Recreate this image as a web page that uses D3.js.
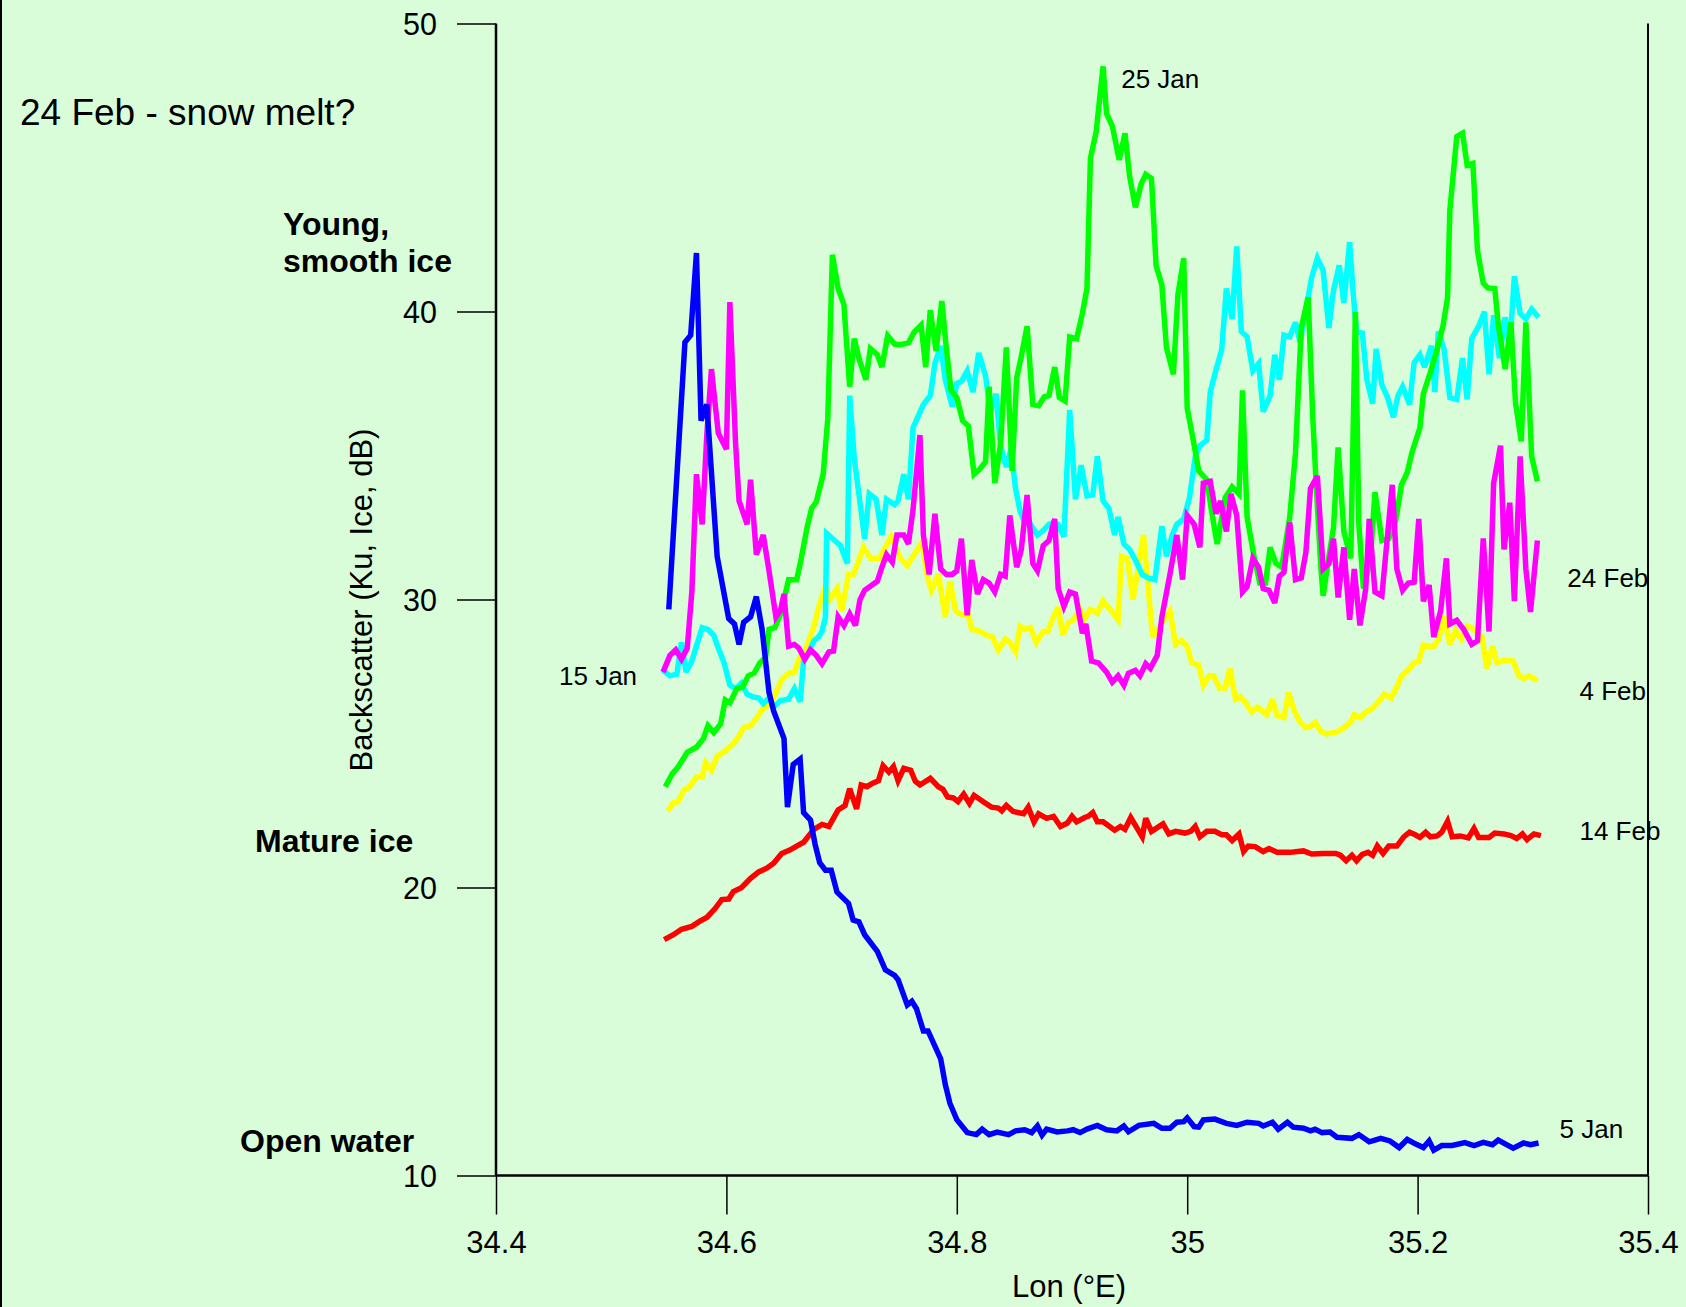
<!DOCTYPE html>
<html>
<head>
<meta charset="utf-8">
<script src="https://cdn.jsdelivr.net/npm/d3@7"></script>
<style>
  body { margin: 0; background: #d9fdd9; }
  svg { display: block; font-family: "Liberation Sans", Arial, Helvetica, sans-serif; }
</style>
</head>
<body>
<div id="wrapper"></div>
<script>
// Data (lon in °E, backscatter in dB)
const lon5Jan = [34.550,34.564,34.569,34.574,34.578,34.583,34.592,34.602,34.607,34.611,34.615,34.621,34.626,34.631,34.637,34.641,34.650,34.653,34.658,34.664,34.667,34.673,34.677,34.681,34.686,34.691,34.696,34.706,34.710,34.715,34.720,34.731,34.738,34.746,34.749,34.757,34.761,34.765,34.771,34.775,34.786,34.790,34.794,34.800,34.809,34.817,34.822,34.828,34.835,34.845,34.851,34.859,34.865,34.870,34.874,34.878,34.887,34.896,34.901,34.907,34.913,34.922,34.930,34.939,34.945,34.949,34.958,34.971,34.978,34.985,34.991,34.997,35.000,35.006,35.010,35.014,35.024,35.034,35.043,35.052,35.062,35.066,35.074,35.079,35.087,35.092,35.101,35.107,35.111,35.117,35.124,35.130,35.143,35.149,35.158,35.168,35.176,35.184,35.191,35.198,35.205,35.210,35.214,35.221,35.230,35.241,35.249,35.257,35.265,35.270,35.276,35.283,35.292,35.298,35.305]
const bs5Jan = [29.66,38.93,39.18,42.03,36.21,36.77,31.49,29.34,29.15,28.44,29.21,29.40,30.10,28.96,26.77,26.13,25.17,22.79,24.27,24.46,22.60,22.34,21.50,20.86,20.60,20.60,19.84,19.45,18.87,18.81,18.36,17.78,17.14,16.95,16.80,15.92,16.05,15.79,15.02,15.02,14.05,13.16,12.51,11.94,11.49,11.42,11.61,11.42,11.51,11.42,11.55,11.59,11.49,11.72,11.40,11.61,11.51,11.55,11.59,11.49,11.61,11.74,11.59,11.55,11.72,11.52,11.74,11.81,11.64,11.64,11.85,11.87,12.00,11.70,11.68,11.93,11.96,11.81,11.74,11.85,11.81,11.72,11.85,11.61,11.85,11.68,11.64,11.55,11.61,11.49,11.51,11.33,11.29,11.42,11.17,11.29,11.20,10.97,11.25,11.10,10.97,11.20,10.88,11.04,11.04,11.14,11.04,11.15,11.07,11.23,11.10,10.95,11.13,11.07,11.13]

const lon15Jan = [34.545,34.551,34.557,34.561,34.565,34.570,34.574,34.579,34.584,34.589,34.593,34.598,34.603,34.608,34.613,34.618,34.623,34.628,34.632,34.637,34.641,34.647,34.654,34.659,34.664,34.667,34.671,34.676,34.680,34.683,34.686,34.687,34.694,34.699,34.705,34.707,34.711,34.716,34.720,34.724,34.730,34.735,34.739,34.746,34.749,34.754,34.758,34.762,34.771,34.777,34.781,34.786,34.790,34.796,34.800,34.804,34.809,34.814,34.819,34.825,34.829,34.834,34.838,34.843,34.847,34.851,34.855,34.859,34.864,34.870,34.874,34.880,34.884,34.888,34.893,34.898,34.903,34.908,34.913,34.918,34.922,34.927,34.932,34.937,34.940,34.945,34.950,34.955,34.961,34.966,34.972,34.978,34.982,34.987,34.991,34.997,35.002,35.007,35.011,35.017,35.020,35.024,35.030,35.034,35.039,35.043,35.047,35.052,35.057,35.062,35.066,35.072,35.076,35.080,35.084,35.089,35.094,35.098,35.103,35.108,35.113,35.118,35.123,35.127,35.132,35.136,35.141,35.144,35.147,35.152,35.156,35.161,35.164,35.169,35.174,35.179,35.183,35.187,35.193,35.197,35.202,35.206,35.212,35.215,35.218,35.223,35.228,35.234,35.239,35.243,35.247,35.253,35.258,35.262,35.266,35.271,35.276,35.280,35.284,35.289,35.294,35.299,35.305]
const bs15Jan = [27.54,27.35,27.41,28.51,27.48,27.86,28.38,29.02,28.96,28.76,28.31,27.80,27.03,26.90,27.09,26.71,26.62,26.58,26.39,26.58,26.26,26.49,26.54,26.90,26.45,27.86,28.12,28.57,28.70,28.89,29.39,32.30,32.05,31.87,31.25,37.08,34.90,33.36,32.11,33.67,33.48,32.24,33.48,33.29,33.42,34.35,33.48,35.96,36.77,37.08,38.19,38.81,37.63,36.70,37.51,37.57,37.94,37.20,38.56,37.76,36.52,37.14,35.34,34.60,35.22,33.85,33.05,32.67,32.61,32.24,32.36,32.61,32.67,32.61,32.18,36.58,33.48,34.66,33.60,33.63,34.97,33.42,33.17,32.24,32.86,31.93,31.74,31.37,30.87,30.75,30.69,32.55,31.50,32.24,32.61,32.80,33.54,34.97,35.34,35.53,37.20,37.82,38.69,40.80,39.74,42.26,39.31,39.12,37.94,38.19,36.52,37.08,38.50,37.63,39.18,39.12,39.62,38.93,40.05,41.17,41.85,41.42,39.43,40.73,41.60,40.30,42.41,40.67,39.31,39.25,37.63,36.80,38.70,37.45,37.01,36.33,37.08,37.39,36.77,38.22,38.50,38.07,38.81,37.20,39.31,38.69,37.01,36.95,38.38,36.95,39.06,39.49,39.99,37.82,39.87,38.38,39.80,38.81,41.23,39.93,39.74,40.08,39.80]

const lon25Jan = [34.547,34.553,34.558,34.566,34.574,34.580,34.584,34.589,34.595,34.599,34.603,34.609,34.614,34.619,34.624,34.629,34.634,34.637,34.642,34.647,34.654,34.661,34.665,34.670,34.674,34.678,34.684,34.688,34.692,34.697,34.702,34.707,34.711,34.715,34.721,34.725,34.731,34.735,34.740,34.746,34.751,34.758,34.763,34.769,34.773,34.777,34.782,34.787,34.791,34.795,34.800,34.805,34.810,34.815,34.820,34.825,34.828,34.833,34.838,34.843,34.848,34.852,34.856,34.861,34.866,34.871,34.876,34.880,34.885,34.889,34.894,34.898,34.904,34.909,34.913,34.916,34.921,34.927,34.930,34.935,34.941,34.946,34.950,34.955,34.960,34.964,34.969,34.973,34.978,34.982,34.988,34.992,34.997,35.000,35.005,35.010,35.017,35.021,35.026,35.033,35.039,35.045,35.048,35.052,35.058,35.063,35.068,35.072,35.077,35.082,35.089,35.094,35.099,35.105,35.109,35.112,35.116,35.118,35.123,35.127,35.131,35.136,35.142,35.146,35.149,35.153,35.159,35.163,35.169,35.175,35.181,35.186,35.191,35.195,35.202,35.205,35.211,35.217,35.222,35.226,35.228,35.234,35.239,35.243,35.248,35.252,35.257,35.261,35.267,35.270,35.276,35.281,35.285,35.290,35.294,35.299,35.304]
const bs25Jan = [23.50,23.95,24.18,24.69,24.87,25.17,25.62,25.38,25.68,26.51,26.41,26.90,26.96,27.35,27.44,27.80,27.99,28.96,29.02,29.50,30.69,30.69,31.43,32.49,33.17,33.38,34.35,36.27,41.97,40.80,40.24,37.39,39.06,38.38,37.63,38.71,38.50,38.07,39.16,38.87,38.85,38.91,39.28,39.53,38.07,40.05,38.63,40.36,38.69,37.26,37.01,36.21,36.02,34.35,34.53,34.78,37.39,34.04,35.40,38.75,34.47,37.70,38.44,39.49,36.77,36.73,37.04,37.08,38.07,37.01,36.89,39.12,39.06,39.93,40.80,45.32,46.25,48.51,46.87,46.44,45.26,46.19,44.70,43.62,44.42,44.76,44.62,41.60,40.92,38.75,37.82,40.61,41.85,36.64,35.59,34.47,34.16,33.11,31.93,33.54,33.91,33.66,37.26,32.86,31.50,30.57,30.57,31.81,31.25,31.12,32.86,35.09,39.43,40.49,36.33,33.98,31.12,30.13,31.50,32.49,35.28,32.36,31.43,39.99,32.61,30.38,31.37,33.73,32.05,32.12,32.73,33.98,34.41,35.09,35.96,37.14,37.88,38.69,39.49,40.48,43.52,46.07,46.19,45.08,45.14,42.10,40.98,40.82,40.80,39.56,38.00,39.62,36.83,35.49,39.62,34.97,34.10]

const lon4Feb = [34.549,34.554,34.558,34.563,34.568,34.574,34.579,34.582,34.587,34.592,34.599,34.605,34.610,34.615,34.621,34.626,34.631,34.637,34.642,34.648,34.654,34.659,34.663,34.670,34.676,34.681,34.686,34.690,34.696,34.700,34.706,34.710,34.714,34.719,34.725,34.733,34.738,34.743,34.751,34.757,34.762,34.770,34.774,34.778,34.784,34.790,34.794,34.799,34.804,34.810,34.813,34.818,34.826,34.831,34.836,34.842,34.846,34.851,34.855,34.859,34.864,34.869,34.875,34.879,34.884,34.888,34.892,34.897,34.901,34.907,34.911,34.916,34.922,34.927,34.936,34.940,34.943,34.948,34.953,34.962,34.970,34.985,34.990,34.995,35.000,35.004,35.010,35.014,35.019,35.023,35.028,35.033,35.037,35.042,35.046,35.050,35.056,35.061,35.065,35.069,35.074,35.078,35.084,35.088,35.093,35.098,35.103,35.107,35.111,35.116,35.121,35.130,35.136,35.142,35.145,35.150,35.155,35.160,35.165,35.171,35.177,35.182,35.186,35.192,35.197,35.201,35.205,35.210,35.214,35.218,35.223,35.228,35.233,35.238,35.243,35.247,35.252,35.256,35.260,35.265,35.269,35.275,35.283,35.288,35.292,35.297,35.304]
const bs4Feb = [22.66,22.94,22.98,23.37,23.50,23.84,23.84,24.33,24.07,24.56,24.74,24.95,25.20,25.55,25.62,25.87,26.19,26.32,26.67,27.22,27.44,27.48,27.93,28.38,29.08,29.85,30.44,30.01,30.38,29.60,30.87,30.87,31.25,31.81,31.43,31.43,31.81,32.18,31.43,31.18,31.50,31.99,30.87,30.32,30.87,29.39,30.63,29.60,29.47,29.47,28.96,28.93,28.76,28.70,28.25,28.63,28.51,28.18,29.06,28.96,29.02,28.51,28.89,28.89,29.41,29.73,28.76,29.21,29.28,29.66,29.34,29.66,29.53,29.95,29.51,29.30,31.50,31.43,30.00,32.24,28.70,29.60,28.44,28.57,28.38,27.80,27.73,27.03,27.35,27.35,26.93,26.93,27.61,26.54,26.62,26.45,26.10,26.26,26.13,26.00,26.54,25.97,25.90,26.77,26.13,25.74,25.55,25.59,25.74,25.42,25.33,25.40,25.55,25.74,26.00,25.90,26.09,26.19,26.39,26.71,26.58,26.97,27.35,27.57,27.80,27.86,28.42,28.38,28.38,28.60,29.41,28.44,28.93,28.63,29.08,29.02,28.83,28.70,27.61,28.38,27.80,27.90,27.86,27.35,27.26,27.35,27.18]

const lon14Feb = [34.546,34.554,34.561,34.570,34.577,34.583,34.590,34.596,34.602,34.606,34.613,34.621,34.628,34.635,34.641,34.648,34.655,34.661,34.667,34.676,34.683,34.689,34.697,34.703,34.707,34.713,34.717,34.722,34.727,34.732,34.736,34.741,34.745,34.749,34.754,34.760,34.764,34.768,34.777,34.784,34.788,34.792,34.797,34.801,34.806,34.811,34.815,34.823,34.830,34.836,34.839,34.843,34.849,34.858,34.862,34.867,34.871,34.878,34.884,34.890,34.896,34.900,34.904,34.911,34.914,34.918,34.922,34.927,34.937,34.942,34.946,34.951,34.961,34.964,34.969,34.979,34.984,34.990,34.998,35.003,35.007,35.011,35.017,35.024,35.030,35.034,35.039,35.045,35.049,35.053,35.059,35.066,35.071,35.078,35.089,35.101,35.108,35.118,35.129,35.133,35.138,35.143,35.147,35.152,35.157,35.161,35.165,35.170,35.175,35.182,35.188,35.193,35.198,35.202,35.207,35.211,35.217,35.221,35.226,35.230,35.237,35.244,35.249,35.253,35.262,35.267,35.275,35.281,35.286,35.291,35.295,35.301,35.307]
const bs14Feb = [18.19,18.36,18.55,18.65,18.83,18.96,19.26,19.58,19.60,19.86,19.99,20.32,20.54,20.67,20.84,21.18,21.30,21.44,21.57,22.02,22.19,22.12,22.69,22.85,23.43,22.73,23.56,23.50,23.62,23.71,24.23,24.01,24.20,23.71,24.14,24.07,23.69,23.56,23.79,23.50,23.41,23.14,23.11,22.98,23.24,22.92,23.20,22.98,22.79,22.76,22.66,22.85,22.64,22.56,22.79,22.28,22.56,22.40,22.47,22.12,22.24,22.47,22.28,22.43,22.47,22.60,22.28,22.28,21.99,22.12,22.02,22.43,21.76,22.40,21.95,22.21,21.86,21.95,21.89,21.95,22.12,21.76,21.95,21.95,21.83,21.83,21.63,21.86,21.25,21.44,21.42,21.25,21.35,21.22,21.22,21.27,21.16,21.18,21.18,21.12,20.93,21.12,20.93,21.15,21.22,21.12,21.44,21.18,21.44,21.44,21.76,21.92,21.83,21.74,21.92,21.76,21.79,21.92,22.30,21.76,21.79,21.72,22.05,21.74,21.74,21.89,21.86,21.80,21.70,21.86,21.66,21.86,21.80]

const lon24Feb = [34.545,34.551,34.556,34.561,34.566,34.568,34.570,34.574,34.579,34.583,34.587,34.593,34.600,34.603,34.608,34.611,34.618,34.621,34.626,34.632,34.637,34.643,34.647,34.650,34.654,34.659,34.663,34.668,34.673,34.678,34.683,34.689,34.693,34.697,34.702,34.707,34.712,34.716,34.720,34.731,34.735,34.739,34.744,34.748,34.754,34.758,34.762,34.768,34.771,34.776,34.781,34.786,34.791,34.796,34.800,34.804,34.809,34.813,34.818,34.823,34.828,34.833,34.838,34.842,34.846,34.852,34.856,34.861,34.866,34.870,34.875,34.880,34.885,34.888,34.893,34.898,34.903,34.907,34.909,34.912,34.917,34.923,34.930,34.935,34.940,34.945,34.949,34.955,34.959,34.964,34.968,34.974,34.978,34.985,34.991,34.996,35.000,35.006,35.011,35.014,35.020,35.025,35.029,35.034,35.038,35.043,35.048,35.052,35.057,35.062,35.066,35.071,35.076,35.080,35.084,35.089,35.094,35.099,35.103,35.107,35.113,35.118,35.123,35.127,35.131,35.136,35.141,35.145,35.150,35.155,35.158,35.163,35.169,35.178,35.182,35.187,35.192,35.197,35.201,35.205,35.210,35.214,35.220,35.225,35.228,35.234,35.240,35.247,35.252,35.257,35.262,35.266,35.272,35.275,35.280,35.284,35.289,35.294,35.298,35.304]
const bs24Feb = [27.48,28.06,28.25,27.93,28.31,29.29,30.26,34.35,32.61,35.71,38.00,35.77,35.22,40.33,35.40,33.42,32.61,34.16,31.56,32.24,31.00,29.39,29.63,30.19,28.38,28.44,28.31,27.93,28.25,28.06,27.77,28.18,28.21,29.40,29.10,29.50,29.10,30.00,30.32,30.63,31.12,31.56,31.30,32.24,32.24,31.93,33.11,35.71,32.24,30.87,32.98,31.06,30.87,30.87,31.00,32.11,29.45,31.37,30.19,30.69,30.57,30.26,30.87,30.81,32.92,31.12,31.74,33.63,31.25,31.00,31.87,32.05,32.80,30.38,29.76,30.26,30.19,29.30,28.83,29.15,27.86,27.80,27.48,27.13,27.35,27.03,27.44,27.54,27.35,27.77,27.61,28.06,29.39,30.87,32.24,30.69,32.92,32.61,31.81,34.04,34.10,32.98,33.42,32.36,33.66,32.92,30.26,30.44,31.43,31.12,30.38,30.32,29.88,30.81,30.94,32.67,30.69,30.75,31.62,33.85,34.29,31.06,31.25,32.11,30.07,31.81,29.30,31.06,29.10,30.38,32.80,30.26,30.13,33.98,31.06,30.32,30.57,30.60,32.80,29.94,30.50,28.70,29.60,31.43,29.15,29.28,28.96,28.44,28.57,32.12,28.89,34.04,35.34,31.74,33.36,29.94,34.97,31.06,29.57,32.05]

// drawing order: first drawn is underneath
const seriesNames = ["4 Feb", "15 Jan", "25 Jan", "24 Feb", "14 Feb", "5 Jan"]
const seriesLon = [lon4Feb, lon15Jan, lon25Jan, lon24Feb, lon14Feb, lon5Jan]
const seriesValues = [bs4Feb, bs15Jan, bs25Jan, bs24Feb, bs14Feb, bs5Jan]
const seriesColors = ["#ffff00", "#00ffff", "#00ff00", "#ff00ff", "#ff0000", "#0000ff"]

const xTicks = [34.4, 34.6, 34.8, 35, 35.2, 35.4]
const yTicks = [10, 20, 30, 40, 50]

// 2. Mitat
const dimensions = {
  width: 1686,
  height: 1307,
  margin: {
    top: 23.5,
    right: 38,
    bottom: 131.5,
    left: 496
  }
}
dimensions.boundedWidth = dimensions.width - dimensions.margin.left - dimensions.margin.right
dimensions.boundedHeight = dimensions.height - dimensions.margin.top - dimensions.margin.bottom

// 3. Pohja
const wrapper = d3.select("#wrapper")
  .append("svg")
  .attr("width", dimensions.width)
  .attr("height", dimensions.height)

wrapper.append("rect")
  .attr("width", dimensions.width)
  .attr("height", dimensions.height)
  .attr("fill", "#d9fdd9")

wrapper.append("line")
  .attr("x1", 1).attr("x2", 1)
  .attr("y1", 0).attr("y2", dimensions.height)
  .attr("stroke", "black")
  .attr("stroke-width", 2)

const bounds = wrapper.append("g")
  .attr("transform", `translate(${dimensions.margin.left},${dimensions.margin.top})`)

// 4. Skaalat
const xScale = d3.scaleLinear()
  .domain([34.4, 35.4])
  .range([0, dimensions.boundedWidth])

const yScale = d3.scaleLinear()
  .domain([10, 50])
  .range([dimensions.boundedHeight, 0])

// 5. Viivat
const lineGenerator = d3.line()
  .x(d => xScale(d[0]))
  .y(d => yScale(d[1]))

seriesNames.forEach((name, i) => {
  const points = d3.zip(seriesLon[i], seriesValues[i])
  bounds.append("path")
    .attr("d", lineGenerator(points))
    .attr("fill", "none")
    .attr("stroke", seriesColors[i])
    .attr("stroke-width", 5.5)
    .attr("stroke-linejoin", "miter")
    .attr("stroke-miterlimit", 3)
})

// 6. Akselit
const yAxisGenerator = d3.axisLeft(yScale)
  .tickValues(yTicks)
  .tickFormat(d3.format("d"))
  .tickSize(39)
  .tickSizeOuter(0)
  .tickPadding(20)

const yAxis = bounds.append("g").call(yAxisGenerator)
yAxis.select(".domain").remove()
yAxis.selectAll(".tick line").attr("stroke-width", 1.5)
yAxis.selectAll("text")
  .attr("font-size", 30.5)
  .attr("fill", "black")
  .attr("dy", "0.37em")

const xAxisGenerator = d3.axisBottom(xScale)
  .tickValues(xTicks)
  .tickFormat(d => d)
  .tickSize(39)
  .tickSizeOuter(0)
  .tickPadding(16)

const xAxis = bounds.append("g")
  .attr("transform", `translate(0,${dimensions.boundedHeight})`)
  .call(xAxisGenerator)
xAxis.select(".domain").remove()
xAxis.selectAll(".tick line").attr("stroke-width", 1.5)
xAxis.selectAll("text")
  .attr("font-size", 31)
  .attr("fill", "black")

wrapper.selectAll("g").attr("font-family", null)

// akseliviivat + oikea reuna
bounds.append("line")
  .attr("x1", 0).attr("x2", 0)
  .attr("y1", 0).attr("y2", dimensions.boundedHeight)
  .attr("stroke", "black").attr("stroke-width", 2.5)
bounds.append("line")
  .attr("x1", 0).attr("x2", dimensions.boundedWidth)
  .attr("y1", dimensions.boundedHeight).attr("y2", dimensions.boundedHeight)
  .attr("stroke", "black").attr("stroke-width", 2.5)
bounds.append("line")
  .attr("x1", dimensions.boundedWidth).attr("x2", dimensions.boundedWidth)
  .attr("y1", 0).attr("y2", dimensions.boundedHeight)
  .attr("stroke", "black").attr("stroke-width", 2)

// Akselien otsikot
wrapper.append("text")
  .attr("x", 1069)
  .attr("y", 1297)
  .attr("text-anchor", "middle")
  .attr("font-size", 31)
  .text("Lon (°E)")

wrapper.append("text")
  .attr("transform", "translate(372,600) rotate(-90)")
  .attr("text-anchor", "middle")
  .attr("font-size", 31)
  .text("Backscatter (Ku, Ice, dB)")

// Muut tekstit
wrapper.append("text")
  .attr("x", 20)
  .attr("y", 125)
  .attr("font-size", 37)
  .text("24 Feb - snow melt?")

const iceLabels = [
  { text: "Young,", x: 283, y: 235 },
  { text: "smooth ice", x: 283, y: 272 },
  { text: "Mature ice", x: 255, y: 852 },
  { text: "Open water", x: 240, y: 1152 }
]
wrapper.selectAll(".ice-label")
  .data(iceLabels)
  .enter()
  .append("text")
  .attr("class", "ice-label")
  .attr("x", d => d.x)
  .attr("y", d => d.y)
  .attr("font-size", 32)
  .attr("font-weight", "bold")
  .text(d => d.text)

// päivämäärät viivojen vieressä
const dateLabels = [
  { text: "25 Jan", lon: 34.9427, val: 47.76 },
  { text: "15 Jan", lon: 34.4547, val: 27.03 },
  { text: "24 Feb", lon: 35.3300, val: 30.45 },
  { text: "4 Feb", lon: 35.3405, val: 26.51 },
  { text: "14 Feb", lon: 35.3405, val: 21.65 },
  { text: "5 Jan", lon: 35.3232, val: 11.30 }
]
bounds.selectAll(".date-label")
  .data(dateLabels)
  .enter()
  .append("text")
  .attr("class", "date-label")
  .attr("x", d => xScale(d.lon))
  .attr("y", d => yScale(d.val))
  .attr("font-size", 26)
  .text(d => d.text)
</script>
</body>
</html>
